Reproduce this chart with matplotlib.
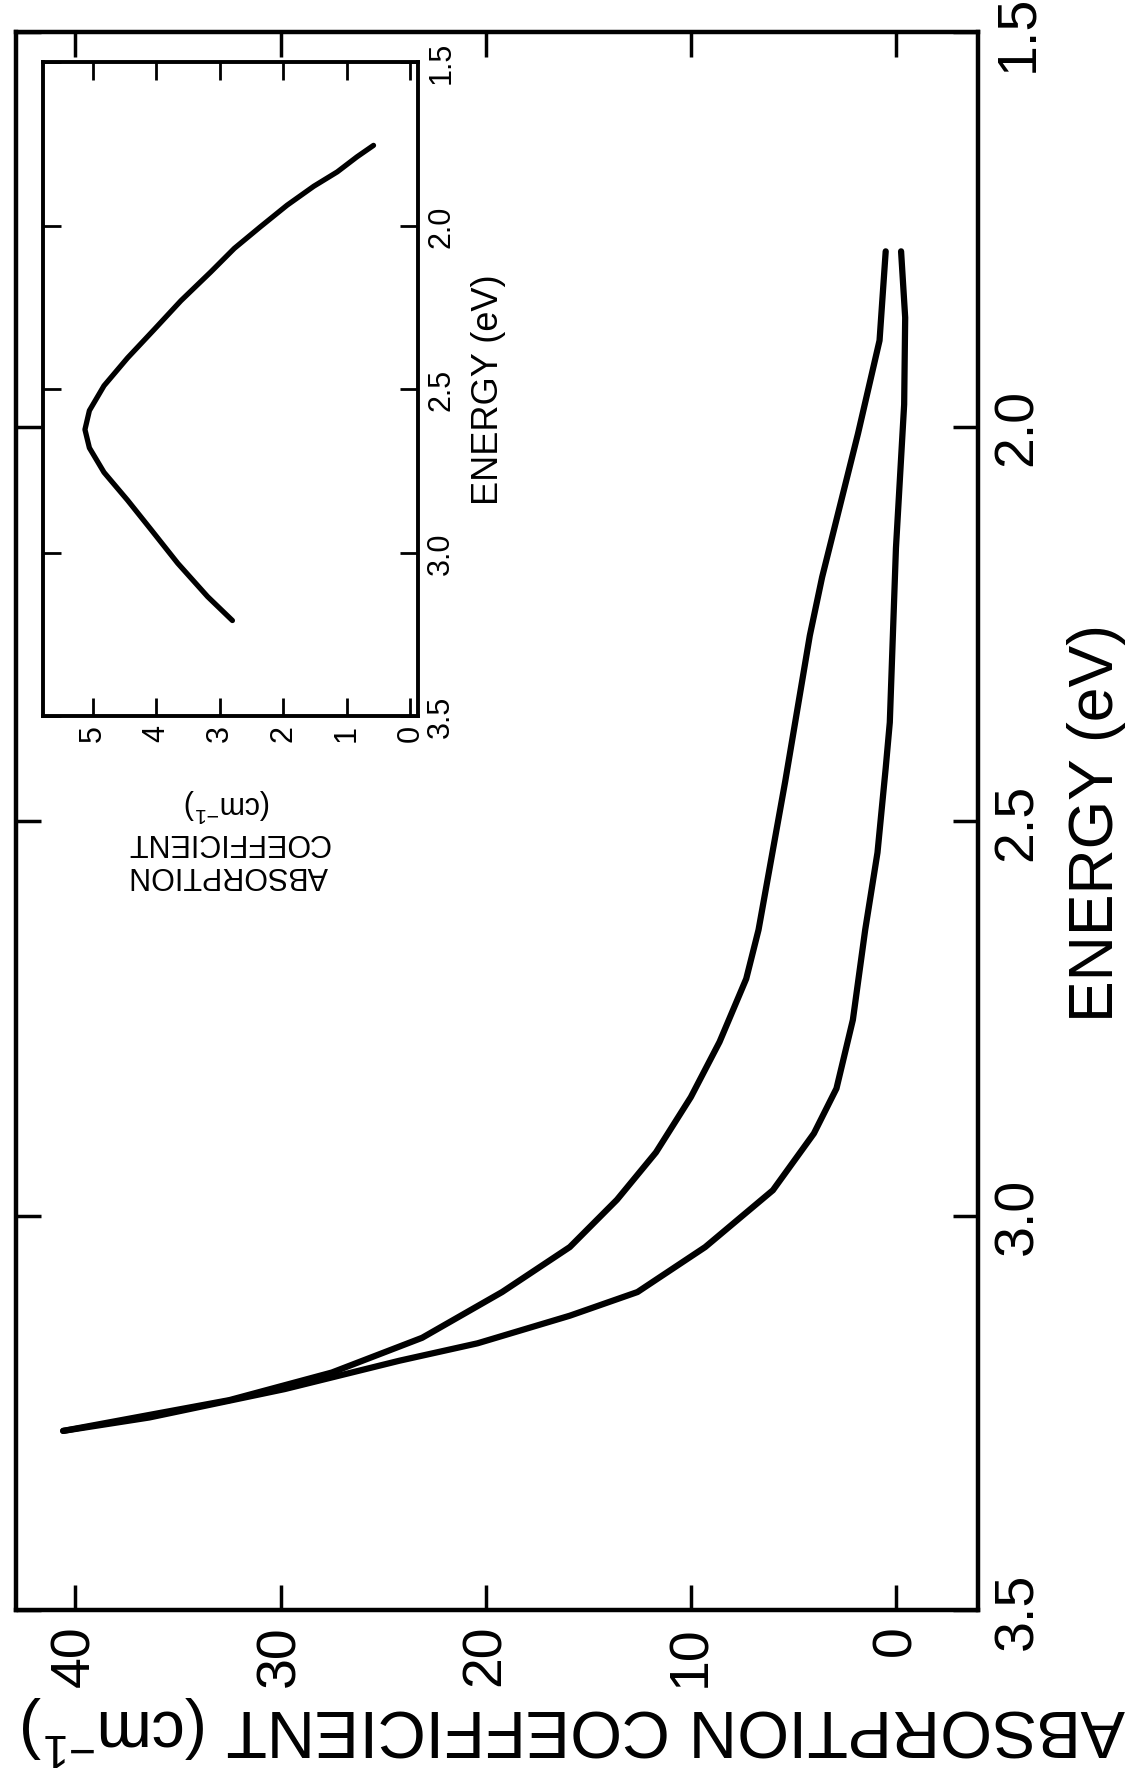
import matplotlib
matplotlib.use("Agg")
import matplotlib.pyplot as plt

plt.rcParams['font.family'] = ['Liberation Sans', 'DejaVu Sans']
plt.rcParams['mathtext.default'] = 'regular'

# main plot: absorption vs photon energy (figure is printed turned on its side)
energy_a = [1.778, 1.891, 2.009, 2.191, 2.265, 2.450, 2.638, 2.700, 2.780,
            2.850, 2.920, 2.980, 3.040, 3.097, 3.155, 3.199, 3.234, 3.273]
absorb_a = [0.5, 0.8, 1.85, 3.6, 4.2, 5.4, 6.7, 7.3, 8.6,
            10.0, 11.7, 13.6, 15.9, 19.2, 23.1, 27.5, 32.5, 40.6]

energy_b = [1.778, 1.862, 1.972, 2.154, 2.375, 2.433, 2.540, 2.638, 2.752,
            2.839, 2.896, 2.968, 3.040, 3.097, 3.127, 3.162, 3.184, 3.220,
            3.256, 3.273]
absorb_b = [-0.25, -0.45, -0.4, 0.0, 0.3, 0.5, 0.9, 1.5, 2.1,
            2.9, 4.0, 6.0, 9.3, 12.6, 15.9, 20.4, 24.2, 29.8,
            36.4, 40.6]

# inset: difference spectrum
energy_in = [3.208, 3.135, 3.033, 2.930, 2.840, 2.755, 2.680, 2.624, 2.566,
             2.490, 2.405, 2.318, 2.230, 2.142, 2.070, 2.004, 1.938, 1.880,
             1.836, 1.790, 1.755]
absorb_in = [2.80, 3.19, 3.66, 4.08, 4.45, 4.82, 5.05, 5.12, 5.05,
             4.82, 4.45, 4.03, 3.61, 3.14, 2.77, 2.36, 1.94, 1.52,
             1.15, 0.84, 0.58]

main_abs_ticks = [0, 10, 20, 30, 40]
main_en_ticks = [1.5, 2.0, 2.5, 3.0, 3.5]
inset_abs_ticks = [0, 1, 2, 3, 4, 5]
inset_en_ticks = [1.5, 2.0, 2.5, 3.0, 3.5]

W, H = 1128, 1781
fig = plt.figure(figsize=(W / 100, H / 100), dpi=100)


def box(l, t, r, b):
    return [l / W, 1 - b / H, (r - l) / W, (b - t) / H]


ax = fig.add_axes(box(16, 33, 978, 1611))
ax.plot(absorb_a, energy_a, color='black', lw=4.5, solid_capstyle='round',
        solid_joinstyle='round')
ax.plot(absorb_b, energy_b, color='black', lw=4.5, solid_capstyle='round',
        solid_joinstyle='round')
ax.set_xlim(42.9, -4.0)
ax.set_ylim(3.5, 1.5)
ax.set_xticks(main_abs_ticks)
ax.set_xticklabels([str(v) for v in main_abs_ticks], rotation=90)
ax.set_yticks(main_en_ticks)
ax.set_yticklabels(['%.1f' % v for v in main_en_ticks], rotation=90, va='center')
ax.tick_params(direction='in', length=18, width=2.5, top=True, right=True,
               labelleft=False, labelright=True, labelsize=40, pad=10)
for s in ax.spines.values():
    s.set_linewidth(3.2)

fig.text(1097 / W, 1 - 823 / H, 'ENERGY (eV)', rotation=90, fontsize=45,
         ha='center', va='center')
fig.text(574 / W, 1 - 1730 / H, 'ABSORPTION COEFFICIENT (cm$^{-1}$)',
         rotation=180, fontsize=48, ha='center', va='center')

# inset
axi = fig.add_axes(box(43, 63, 418, 717))
axi.plot(absorb_in, energy_in, color='black', lw=3.8, solid_capstyle='round',
         solid_joinstyle='round')
axi.set_xlim(5.78, -0.12)
axi.set_ylim(3.5, 1.5)
axi.set_xticks(inset_abs_ticks)
axi.set_xticklabels([str(v) for v in inset_abs_ticks], rotation=90)
axi.set_yticks(inset_en_ticks)
axi.set_yticklabels(['%.1f' % v for v in inset_en_ticks], rotation=90, va='center')
axi.tick_params(direction='in', length=13, width=2, top=True, right=True,
                labelleft=False, labelright=True, labelsize=22, pad=6)
for s in axi.spines.values():
    s.set_linewidth(2.8)

fig.text(489 / W, 1 - 390 / H, 'ENERGY (eV)', rotation=90, fontsize=26,
         ha='center', va='center')
fig.text(228 / W, 1 - 838 / H, 'ABSORPTION\nCOEFFICIENT\n(cm$^{-1}$)',
         rotation=180, fontsize=22, ha='center', va='center',
         multialignment='center', linespacing=1.1)

fig.savefig('out.png', dpi=100)
